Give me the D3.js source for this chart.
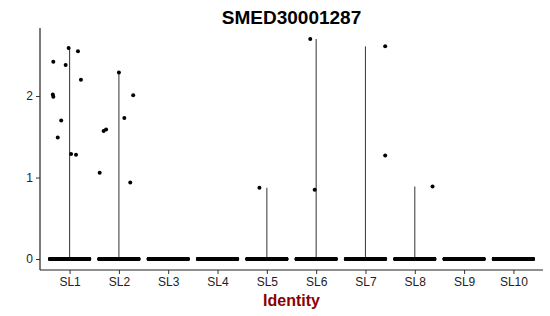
<!DOCTYPE html>
<html>
  <body style="margin:0">
    <style>
      text { font-family: "Liberation Sans", Arial, sans-serif; }
    </style>
    <script src="https://d3js.org/d3.v7.min.js"></script>
    <script type="text/javascript">
      const width = 550;
      const height = 316;

      const categories = ['SL1', 'SL2', 'SL3', 'SL4', 'SL5', 'SL6', 'SL7', 'SL8', 'SL9', 'SL10'];
      const yTicks = [0, 1, 2];

      // expressing cells (value, jitter offset in category units)
      const sl1Values = [2.42, 2.59, 2.55, 2.38, 2.20, 2.02, 1.99, 1.70, 1.49, 1.29, 1.28];
      const sl1Jitter = [-0.33, -0.02, 0.17, -0.08, 0.23, -0.34, -0.33, -0.17, -0.24, 0.03, 0.13];
      const sl2Values = [2.29, 2.01, 1.73, 1.57, 1.59, 1.06, 0.94];
      const sl2Jitter = [0.0, 0.29, 0.11, -0.31, -0.26, -0.39, 0.23];
      const sl5Values = [0.875];
      const sl5Jitter = [-0.15];
      const sl6Values = [2.70, 0.85];
      const sl6Jitter = [-0.12, -0.03];
      const sl7Values = [2.61, 1.27];
      const sl7Jitter = [0.40, 0.40];
      const sl8Values = [0.89];
      const sl8Jitter = [0.36];

      // cells with zero expression per cluster
      const zeroCounts = [260, 260, 260, 260, 260, 260, 260, 260, 260, 260];

      const expressing = {
        SL1: [sl1Values, sl1Jitter],
        SL2: [sl2Values, sl2Jitter],
        SL5: [sl5Values, sl5Jitter],
        SL6: [sl6Values, sl6Jitter],
        SL7: [sl7Values, sl7Jitter],
        SL8: [sl8Values, sl8Jitter],
      };

      const points = [];
      categories.forEach((c, i) => {
        const n = zeroCounts[i];
        for (let k = 0; k < n; k++) {
          points.push({ cat: c, value: 0, jitter: -0.4 + 0.8 * k / (n - 1) });
        }
        if (expressing[c]) {
          const [vals, jit] = expressing[c];
          vals.forEach((v, j) => points.push({ cat: c, value: v, jitter: jit[j] }));
        }
      });

      const maxByCat = categories.map((c) => ({
        cat: c,
        max: d3.max(points.filter((p) => p.cat === c), (p) => p.value),
      }));

      const margin = { left: 40, right: 7, top: 28, bottom: 46 };

      const svg = d3.select('body')
        .append('svg')
        .attr('width', width)
        .attr('height', height);

      const x = d3.scalePoint()
        .domain(categories)
        .range([margin.left, width - margin.right])
        .padding(0.6);

      const step = x.step();
      const yMax = d3.max(points, (p) => p.value);
      const y = d3.scaleLinear()
        .domain([-0.05 * yMax, yMax * 1.05])
        .range([height - margin.bottom, margin.top]);

      // violins (collapse to a line with this many zeros)
      svg.append('g')
        .selectAll('line')
        .data(maxByCat.filter((d) => d.max > 0))
        .enter()
        .append('line')
        .attr('x1', (d) => x(d.cat))
        .attr('x2', (d) => x(d.cat))
        .attr('y1', y(0))
        .attr('y2', (d) => y(d.max))
        .attr('stroke', '#444')
        .attr('stroke-width', 1.1);

      svg.append('g')
        .selectAll('circle')
        .data(points)
        .enter()
        .append('circle')
        .attr('cx', (d) => x(d.cat) + d.jitter * step)
        .attr('cy', (d) => y(d.value))
        .attr('r', 2)
        .attr('fill', '#000');

      const xAxis = svg.append('g')
        .attr('transform', `translate(0,${height - margin.bottom})`)
        .call(d3.axisBottom(x).tickSize(4).tickPadding(3));
      xAxis.select('.domain').attr('d', `M${margin.left},0H${width - margin.right}`);

      const yAxis = svg.append('g')
        .attr('transform', `translate(${margin.left},0)`)
        .call(d3.axisLeft(y).tickValues(yTicks).tickFormat(d3.format('d')).tickSize(4).tickPadding(3));
      yAxis.select('.domain').attr('d', `M0,${margin.top}V${height - margin.bottom}`);

      svg.selectAll('.domain').attr('stroke', '#222').attr('stroke-width', 1.2);
      svg.selectAll('.tick line').attr('stroke', '#333');
      svg.selectAll('.tick text')
        .attr('fill', '#222')
        .style('font-size', '12px')
        .style('font-family', '"Liberation Sans", Arial, sans-serif');

      svg.append('text')
        .attr('x', (margin.left + width - margin.right) / 2)
        .attr('y', 24)
        .attr('text-anchor', 'middle')
        .style('font-size', '19px')
        .style('font-weight', 'bold')
        .text('SMED30001287');

      svg.append('text')
        .attr('x', (margin.left + width - margin.right) / 2)
        .attr('y', 306)
        .attr('text-anchor', 'middle')
        .attr('fill', '#8B0000')
        .style('font-size', '16px')
        .style('font-weight', 'bold')
        .text('Identity');
    </script>
  </body>
</html>
